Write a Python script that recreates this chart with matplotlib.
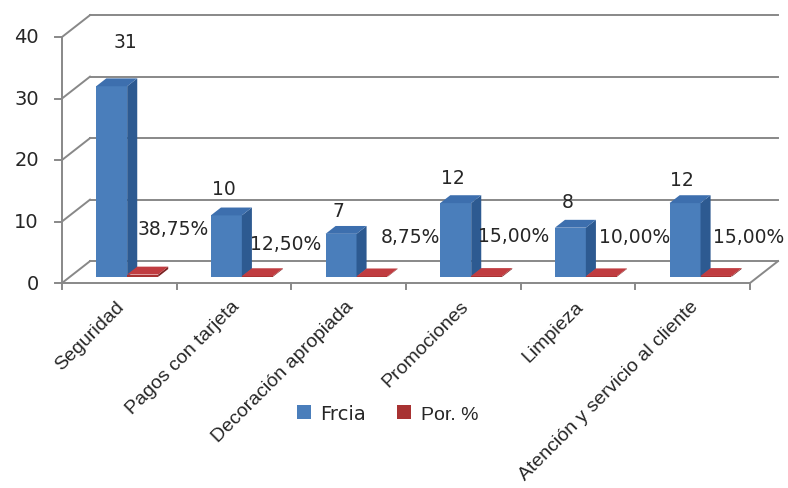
import numpy as np
import matplotlib.pyplot as plt
from matplotlib.patches import Polygon, Patch

plt.rcParams['font.family'] = 'DejaVu Sans'

# survey results: frequency and share per attribute
categories = ["Seguridad", "Pagos con tarjeta", "Decoración apropiada",
              "Promociones", "Limpieza", "Atención y servicio al cliente"]
frcia = [31, 10, 7, 12, 8, 12]
porcentaje = [0.3875, 0.125, 0.0875, 0.15, 0.10, 0.15]
pct_labels = ["38,75%", "12,50%", "8,75%", "15,00%", "10,00%", "15,00%"]
y_ticks = [0, 10, 20, 30, 40]

# label placement (category units / value units)
frcia_label_dx = [0.55, 0.41, 0.41, 0.41, 0.41, 0.41]
frcia_label_lift = [8.3, 5.3, 4.8, 5.2, 5.2, 4.9]
pct_label_dx = [0.97, 0.95, 1.04, 0.94, 0.99, 0.99]
pct_label_y = [8.8, 6.5, 7.6, 7.8, 7.6, 7.6]

# fake 3d: depth offset of the back wall in data units
DX, DY = 0.244, 3.55
BAR_W = 0.27
D0, D1 = 0.28, 0.64
GRID = '#888888'
TXT = '#262626'

BLUE = ('#4a7ebb', '#2d5a91', '#3d6fae')   # front, side, top
RED = ('#a83232', '#7a2222', '#c03c40')


def proj(x, v, d):
    return (x + d * DX, v + d * DY)


def bar3d(ax, x0, x1, v, colors):
    front = [proj(x0, 0, D0), proj(x1, 0, D0), proj(x1, v, D0), proj(x0, v, D0)]
    side = [proj(x1, 0, D0), proj(x1, 0, D1), proj(x1, v, D1), proj(x1, v, D0)]
    top = [proj(x0, v, D0), proj(x1, v, D0), proj(x1, v, D1), proj(x0, v, D1)]
    for pts, c in zip((front, side, top), colors):
        ax.add_patch(Polygon(pts, closed=True, facecolor=c, edgecolor='none', zorder=3))


fig = plt.figure(figsize=(7.88, 4.89), dpi=100)
ax = fig.add_axes([0, 0, 1, 1])
ax.set_xlim(-62 / 114.67, (788 - 62) / 114.67)
ax.set_ylim((284 - 489) / 6.15, 284 / 6.15)
ax.axis('off')

n = len(categories)

# back wall gridlines and left wall diagonals
for v in y_ticks:
    ax.plot([DX, n + DX], [v + DY, v + DY], color=GRID, lw=1.4, zorder=1)
    ax.plot([0, DX], [v, v + DY], color=GRID, lw=1.4, zorder=1)
    ax.plot([-7 / 114.67, 0], [v, v], color=GRID, lw=1.4, zorder=1)
    ax.text(-23 / 114.67, v, str(v), ha='right', va='center', fontsize=14, color=TXT)

# front axis and floor
ax.plot([0, 0], [0, y_ticks[-1]], color=GRID, lw=1.4, zorder=1)
ax.plot([0, n, n + DX], [0, 0, DY], color=GRID, lw=1.4, zorder=1)
for k in range(n + 1):
    ax.plot([k, k], [0, -1.0], color=GRID, lw=1.4, zorder=1)

for i in range(n):
    bar3d(ax, i + 0.5 - BAR_W, i + 0.5, frcia[i], BLUE)
    bar3d(ax, i + 0.5, i + 0.5 + BAR_W, porcentaje[i], RED)
    ax.text(i + frcia_label_dx[i], frcia[i] + frcia_label_lift[i], str(frcia[i]),
            ha='center', va='center', fontsize=13.5, color=TXT, zorder=5)
    ax.text(i + pct_label_dx[i], pct_label_y[i], pct_labels[i],
            ha='center', va='center', fontsize=13.5, color=TXT, zorder=5)
    ax.text(i + 0.5 - 0.03, -2.3, categories[i], rotation=45, rotation_mode='anchor',
            ha='right', va='top', fontsize=14, family='Liberation Sans', color=TXT)

handles = [Patch(facecolor=BLUE[0], edgecolor='none'), Patch(facecolor=RED[0], edgecolor='none')]
leg = ax.legend(handles, ["Frcia", "Por. %"], loc='center', bbox_to_anchor=(0.492, 0.153),
                bbox_transform=fig.transFigure, ncol=2, frameon=False, fontsize=14,
                handlelength=0.7, handleheight=0.7, handletextpad=0.5, columnspacing=1.6)
for t in leg.get_texts():
    t.set_color(TXT)
leg.get_texts()[1].set_family('Liberation Sans')

fig.savefig("out.png", dpi=100)
